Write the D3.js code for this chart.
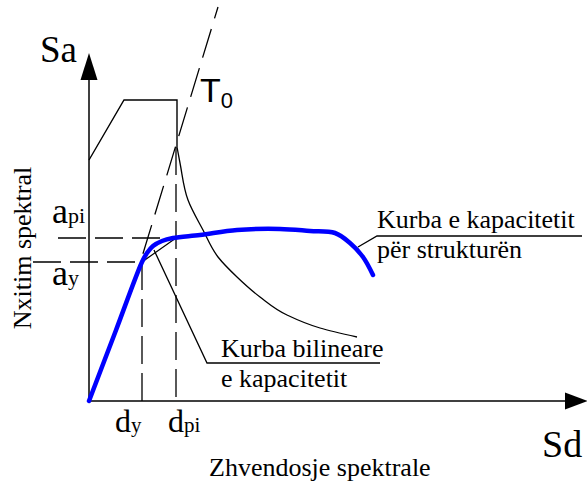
<!DOCTYPE html>
<html>
<head>
<meta charset="utf-8">
<script src="https://cdn.jsdelivr.net/npm/d3@7"></script>
<style>
  html, body { margin: 0; padding: 0; background: #fff; }
  svg { display: block; }
  .serif { font-family: "Liberation Serif", "Times New Roman", serif; fill: #000; }
  .sans { font-family: "Liberation Sans", Arial, sans-serif; fill: #000; }
</style>
</head>
<body>
<svg id="chart" width="587" height="486"></svg>
<script>
// Demand spectrum (ADRS form): Sd vs Sa, arbitrary units
const sdSpectrum = [0, 3.5, 8.8, 8.8, 9.1, 9.9, 11.4, 12.9, 14.8, 17.1, 19.8, 23.1, 26.8];
const saSpectrum = [24.1, 30.1, 30.1, 25.4, 23.8, 20.1, 17.1, 14.4, 12.4, 10.4, 8.6, 7.3, 6.4];

// Capacity curve of the structure
const sdCapacity = [0, 2.65, 5.3, 5.8, 6.4, 7.3, 8.4, 11.1, 14.8, 19.1, 22.1, 24.6, 26.1, 27.4, 28.4];
const saCapacity = [0, 6.95, 13.9, 14.8, 15.5, 16.0, 16.3, 16.6, 17.1, 17.2, 17.0, 16.8, 15.8, 14.4, 12.6];

// Bilinear idealisation: origin, yield point (dy, ay), performance point (dpi, api)
const sdBilinear = [0, 5.3, 8.7];
const saBilinear = [0, 13.9, 16.3];

// Radial period line T0 (visible part)
const sdPeriod = [4.2, 12.9];
const saPeriod = [10.8, 39.4];

// Key points
const dy = 5.3, ay = 13.9, dpi = 8.7, api = 16.3;

const svg = d3.select("#chart");
const x = d3.scaleLinear().domain([0, 50]).range([89, 589]);
const y = d3.scaleLinear().domain([0, 40]).range([401, 1]);

const pts = (xs, ys) => xs.map((v, i) => [v, ys[i]]);
const line = d3.line().x(d => x(d[0])).y(d => y(d[1]));

// Axes with arrow heads
svg.append("line").attr("x1", x(0)).attr("y1", y(0)).attr("x2", 565).attr("y2", y(0))
  .attr("stroke", "#000").attr("stroke-width", 1.5);
svg.append("path").attr("d", `M565,${y(0) - 8.5}L588,${y(0)}L565,${y(0) + 8.5}Z`).attr("fill", "#000");
svg.append("line").attr("x1", x(0)).attr("y1", y(0)).attr("x2", x(0)).attr("y2", 80)
  .attr("stroke", "#000").attr("stroke-width", 1.5);
svg.append("path").attr("d", `M${x(0) - 8.5},80L${x(0)},53L${x(0) + 8.5},80Z`).attr("fill", "#000");

// Dashed guide lines
const dash = "28,9";
const guides = [
  [[-3.1, api], [dpi, api]],
  [[-5.6, ay], [dy, ay]],
  [[dy, ay], [dy, 0]],
  [[dpi, saSpectrum[3]], [dpi, 0]]
];
guides.forEach(g => svg.append("path").attr("d", line(g))
  .attr("fill", "none").attr("stroke", "#000").attr("stroke-width", 1.3).attr("stroke-dasharray", dash));

// Period line T0
svg.append("path").attr("d", line(pts(sdPeriod, saPeriod)))
  .attr("fill", "none").attr("stroke", "#000").attr("stroke-width", 1.3).attr("stroke-dasharray", "30,11");

// Demand spectrum: linear rise + plateau + drop, then smooth decay
const spec = pts(sdSpectrum, saSpectrum);
svg.append("path").attr("d", line(spec.slice(0, 4)))
  .attr("fill", "none").attr("stroke", "#000").attr("stroke-width", 1.4);
const decay = d3.line().x(d => x(d[0])).y(d => y(d[1])).curve(d3.curveMonotoneY);
svg.append("path").attr("d", decay(spec.slice(3).reverse()))
  .attr("fill", "none").attr("stroke", "#000").attr("stroke-width", 1.3);

// Bilinear curve
svg.append("path").attr("d", line(pts(sdBilinear, saBilinear)))
  .attr("fill", "none").attr("stroke", "#000").attr("stroke-width", 1.2);

// Capacity curve
const smooth = d3.line().x(d => x(d[0])).y(d => y(d[1])).curve(d3.curveCatmullRom.alpha(0.5));
svg.append("path").attr("d", smooth(pts(sdCapacity, saCapacity)))
  .attr("fill", "none").attr("stroke", "#0000ff").attr("stroke-width", 4.5)
  .attr("stroke-linejoin", "round").attr("stroke-linecap", "round");

// Callout leaders and underlines
const callouts = [
  [[26.9, 15.4], [28.8, 16.5], [49.3, 16.5]],
  [[6.5, 15.1], [11.8, 3.8], [29.1, 3.8]]
];
callouts.forEach(c => svg.append("path").attr("d", line(c))
  .attr("fill", "none").attr("stroke", "#000").attr("stroke-width", 1.3));

// Text
function label(cls, tx, ty, size, parts) {
  const t = svg.append("text").attr("class", cls).attr("x", tx).attr("y", ty).attr("font-size", size);
  parts.forEach(p => {
    const s = t.append("tspan").text(p.t);
    if (p.size) s.attr("font-size", p.size);
    if (p.dy) s.attr("dy", p.dy);
  });
  return t;
}
label("serif", 40, 62, 37, [{t: "Sa"}]);
label("serif", 542, 457, 38, [{t: "Sd"}]);
label("sans", 200, 102, 34, [{t: "T"}, {t: "0", size: 22, dy: 6}]);
label("serif", 52, 223, 36, [{t: "a"}, {t: "pi", size: 22}]);
label("serif", 52, 285, 36, [{t: "a"}, {t: "y", size: 22}]);
label("serif", 115, 432, 32, [{t: "d"}, {t: "y", size: 21}]);
label("serif", 168, 432, 32, [{t: "d"}, {t: "pi", size: 21}]);
label("serif", 209, 476, 26, [{t: "Zhvendosje spektrale"}]);
label("serif", 377, 228, 26, [{t: "Kurba e kapacitetit"}]);
label("serif", 377, 258, 26, [{t: "për strukturën"}]);
label("serif", 221, 357, 26, [{t: "Kurba bilineare"}]);
label("serif", 221, 387, 26, [{t: "e kapacitetit"}]);
svg.append("text").attr("class", "serif").attr("font-size", 26)
  .attr("text-anchor", "middle")
  .attr("transform", "translate(31,248) rotate(-90)")
  .text("Nxitim spektral");
</script>
</body>
</html>
